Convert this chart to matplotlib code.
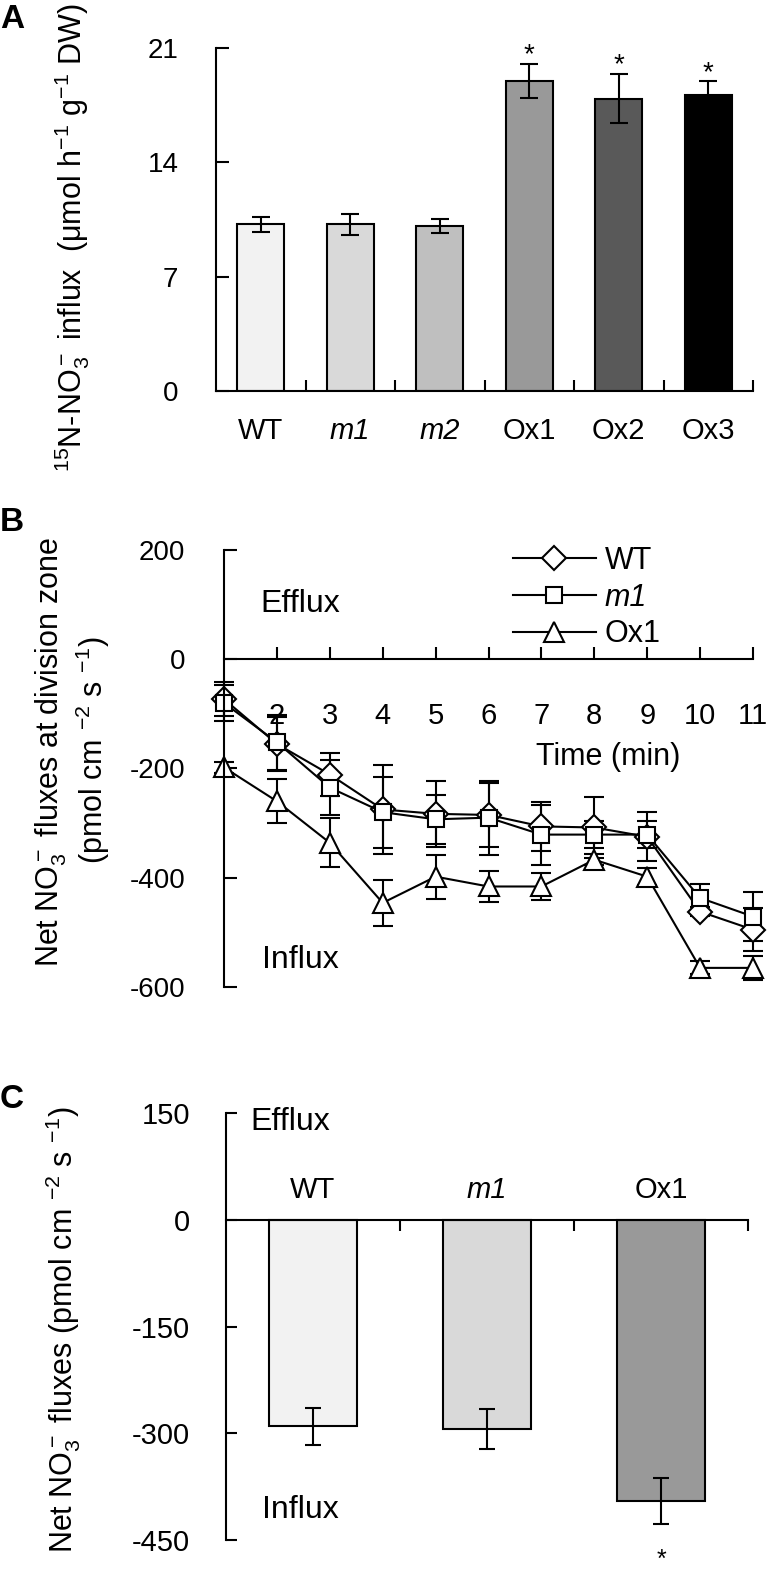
import numpy as np
import matplotlib.pyplot as plt

plt.rcParams['font.family'] = ['Liberation Sans', 'DejaVu Sans']
plt.rcParams['mathtext.fontset'] = 'custom'
plt.rcParams['mathtext.rm'] = 'Liberation Sans'
plt.rcParams['mathtext.it'] = 'Liberation Sans:italic'
plt.rcParams['mathtext.bf'] = 'Liberation Sans:bold'
plt.rcParams['axes.linewidth'] = 1.5
plt.rcParams['axes.unicode_minus'] = False
plt.rcParams['font.size'] = 20

# Panel A: 15N-NO3- influx
a_labels = ['WT', 'm1', 'm2', 'Ox1', 'Ox2', 'Ox3']
a_italic = [False, True, True, False, False, False]
a_values = [10.2, 10.2, 10.1, 19.0, 17.9, 18.1]
a_errors = [0.45, 0.65, 0.45, 1.05, 1.5, 0.85]
a_colors = ['#f2f2f2', '#d9d9d9', '#bfbfbf', '#999999', '#595959', '#000000']
a_signif = [False, False, False, True, True, True]

# Panel B: net NO3- flux time course at division zone
b_time = [1, 2, 3, 4, 5, 6, 7, 8, 9, 10, 11]
b_wt = [-73, -155, -211, -275, -283, -285, -306, -308, -325, -462, -495]
b_wt_err = [31, 50, 40, 82, 60, 58, 45, 55, 45, 8, 40]
b_m1 = [-80, -152, -235, -280, -293, -290, -321, -321, -321, -437, -471]
b_m1_err = [33, 50, 50, 65, 45, 68, 55, 24, 25, 25, 45]
b_ox1 = [-198, -260, -336, -446, -398, -416, -416, -367, -398, -565, -565]
b_ox1_err = [10, 40, 45, 42, 40, 28, 25, 10, 15, 12, 22]
b_ticks = [2, 3, 4, 5, 6, 7, 8, 9, 10, 11]

# Panel C: net NO3- flux
c_labels = ['WT', 'm1', 'Ox1']
c_italic = [False, True, False]
c_values = [-290, -294, -395]
c_errors = [26, 28, 32]
c_colors = ['#f2f2f2', '#d9d9d9', '#999999']
c_signif = [False, False, True]

W, H = 782, 1573
fig = plt.figure(figsize=(W / 100, H / 100), dpi=100)


def fx(px):
    return px / W


def fy(py):
    return 1 - py / H


# ---------------- A ----------------
axA = fig.add_axes([fx(216), fy(391), fx(753) - fx(216), fy(48) - fy(391)])
xa = np.arange(len(a_labels))
axA.bar(xa, a_values, width=0.53, color=a_colors, edgecolor='black', linewidth=1.5, zorder=2)
axA.errorbar(xa, a_values, yerr=a_errors, fmt='none', ecolor='black', elinewidth=1.5,
             capsize=6.5, capthick=1.5, zorder=3)
for i in range(len(a_labels)):
    if a_signif[i]:
        axA.text(xa[i], a_values[i] + a_errors[i] + 0.1, '*', ha='center', va='baseline', fontsize=20)
axA.set_xlim(-0.5, len(a_labels) - 0.5)
axA.set_ylim(0, 21)
axA.set_yticks([0, 7, 14, 21])
axA.tick_params(axis='y', direction='in', length=9, width=1.5, pad=27, labelsize=20)
axA.set_xticks(np.arange(0.5, len(a_labels), 1))
axA.set_xticklabels([])
axA.tick_params(axis='x', which='major', direction='in', length=8, width=1.5)
axA.set_xticks(xa, minor=True)
axA.set_xticklabels(a_labels, minor=True)
axA.tick_params(axis='x', which='minor', length=0, pad=19, labelsize=21)
for lab, it in zip(axA.get_xticklabels(minor=True), a_italic):
    if it:
        lab.set_style('italic')
axA.spines['top'].set_visible(False)
axA.spines['right'].set_visible(False)

fig.text(fx(72), fy(472), r'$^{15}$N-NO$_3^-$ influx  (μmol h$^{-1}$ g$^{-1}$ DW)',
         rotation=90, ha='center', va='bottom', fontsize=22)
fig.text(0, fy(4), 'A', fontweight='bold', fontsize=24, ha='left', va='top')

# ---------------- B ----------------
axB = fig.add_axes([fx(224), fy(987), fx(753) - fx(224), fy(550) - fy(987)])
series = [(b_wt, b_wt_err, 'D', 12, 'WT'),
          (b_m1, b_m1_err, 's', 12, 'm1'),
          (b_ox1, b_ox1_err, '^', 14, 'Ox1')]
handles = []
for vals, errs, mk, ms, lab in series:
    cont = axB.errorbar(b_time, vals, yerr=errs, color='black', marker=mk, ms=ms, mfc='white',
                        mec='black', mew=1.5, lw=1.5, elinewidth=1.5, capsize=7, capthick=1.5,
                        label=lab)
    cont[0].set_clip_on(False)
    for c in cont[1]:
        c.set_clip_on(False)
    for c in cont[2]:
        c.set_clip_on(False)
    handles.append(cont[0])
axB.set_xlim(1, 11)
axB.set_ylim(-600, 200)
axB.set_yticks([-600, -400, -200, 0, 200])
axB.tick_params(axis='y', direction='in', length=9, width=1.5, pad=28, labelsize=20)
axB.set_xticks(b_ticks)
axB.tick_params(axis='x', direction='in', length=9, width=1.5, pad=31, labelsize=21)
axB.spines['bottom'].set_position(('data', 0))
axB.spines['top'].set_visible(False)
axB.spines['right'].set_visible(False)
leg = axB.legend(handles, [s[4] for s in series], loc='upper left',
                 bbox_to_anchor=(fx(513), fy(546)), bbox_transform=fig.transFigure,
                 frameon=False, borderpad=0, borderaxespad=0, handlelength=2.7,
                 handletextpad=0.3, labelspacing=0.22, fontsize=22)
leg.get_texts()[1].set_style('italic')
axB.text(1.68, 101, 'Efflux', ha='left', va='center', fontsize=23)
axB.text(1.72, -550, 'Influx', ha='left', va='center', fontsize=23)
fig.text(fx(608), fy(757), 'Time (min)', ha='center', va='center', fontsize=22)

fig.text(fx(51), fy(752), r'Net NO$_3^-$ fluxes at division zone',
         rotation=90, ha='center', va='center', fontsize=22)
fig.text(fx(93), fy(750), r'(pmol cm $^{-2}$ s $^{-1}$)',
         rotation=90, ha='center', va='center', fontsize=22)
fig.text(0, fy(507), 'B', fontweight='bold', fontsize=24, ha='left', va='top')

# ---------------- C ----------------
axC = fig.add_axes([fx(226), fy(1540), fx(748) - fx(226), fy(1113) - fy(1540)])
xc = np.arange(len(c_labels))
axC.bar(xc, c_values, width=0.51, color=c_colors, edgecolor='black', linewidth=1.5, zorder=2)
axC.errorbar(xc, c_values, yerr=c_errors, fmt='none', ecolor='black', elinewidth=1.5,
             capsize=6, capthick=1.5, zorder=3)
for i in range(len(c_labels)):
    axC.text(xc[i], 42, c_labels[i], ha='center', va='center', fontsize=21,
             style='italic' if c_italic[i] else 'normal')
    if c_signif[i]:
        axC.text(xc[i], c_values[i] - c_errors[i] - 34, '*', ha='center', va='top',
                 fontsize=18, clip_on=False)
axC.set_xlim(-0.5, len(c_labels) - 0.5)
axC.set_ylim(-450, 150)
axC.set_yticks([-450, -300, -150, 0, 150])
axC.tick_params(axis='y', direction='in', length=8, width=1.5, pad=26, labelsize=21)
axC.set_xticks(np.arange(0.5, len(c_labels), 1))
axC.set_xticklabels([])
axC.tick_params(axis='x', direction='out', length=8, width=1.5)
axC.spines['bottom'].set_position(('data', 0))
axC.spines['top'].set_visible(False)
axC.spines['right'].set_visible(False)
axC.text(-0.362, 138, 'Efflux', ha='left', va='center', fontsize=23)
axC.text(-0.293, -408, 'Influx', ha='left', va='center', fontsize=23)

fig.text(fx(63), fy(1107), r'Net NO$_3^-$ fluxes (pmol cm $^{-2}$ s $^{-1}$)',
         rotation=90, ha='center', va='top', fontsize=22)
fig.text(0, fy(1084), 'C', fontweight='bold', fontsize=24, ha='left', va='top')

fig.savefig('out.png', dpi=100)
